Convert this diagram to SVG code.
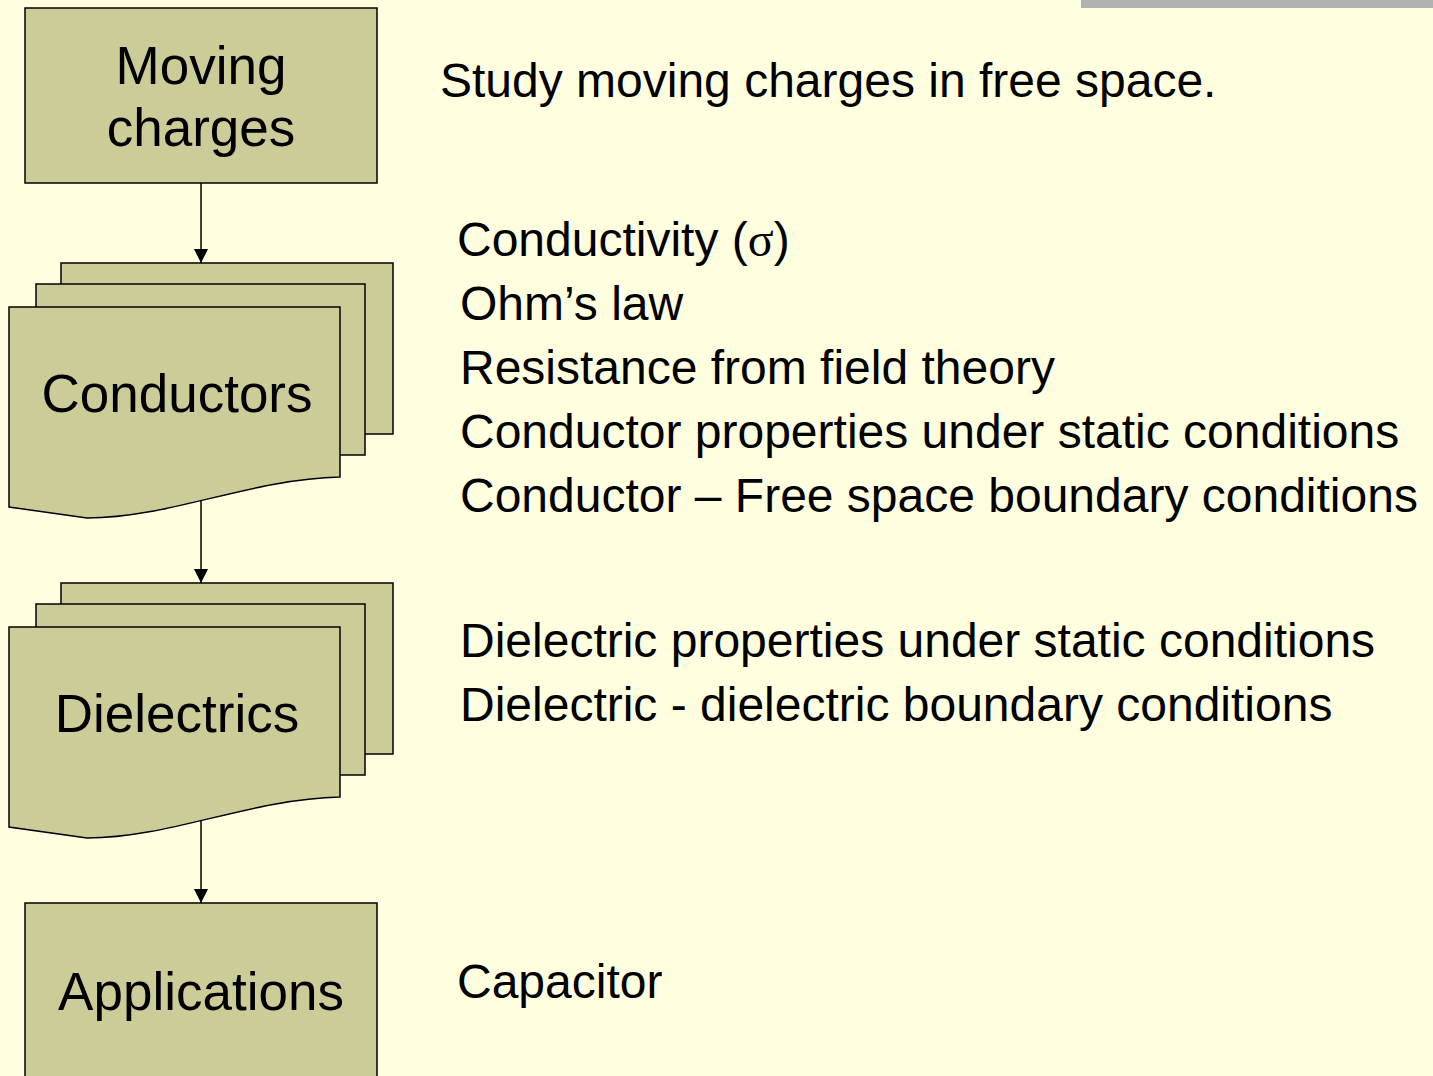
<svg xmlns="http://www.w3.org/2000/svg" width="1433" height="1076" viewBox="0 0 1433 1076">
<defs>
<style>
.box{fill:#cccc99;stroke:#000;stroke-width:1.5}
.lbl{font-family:"Liberation Sans",Arial,sans-serif;font-size:53px;fill:#000;text-anchor:middle}
.txt{font-family:"Liberation Sans",Arial,sans-serif;font-size:48px;fill:#000}
.conn{stroke:#000;stroke-width:1.5;fill:none}
</style>
<marker id="arr" viewBox="0 0 14 14" refX="14" refY="7" markerWidth="14" markerHeight="14" markerUnits="userSpaceOnUse" orient="auto">
<path d="M0,0 L14,7 L0,14 Z" fill="#000"/>
</marker>
</defs>
<rect width="1433" height="1076" fill="#ffffe0"/>
<rect x="1081" y="0" width="352" height="8" fill="#b2b2b2"/>

<g id="connectors">
<path class="conn" d="M201,183 V263" marker-end="url(#arr)"/>
<path class="conn" d="M201,500 V583" marker-end="url(#arr)"/>
<path class="conn" d="M201,820 V903" marker-end="url(#arr)"/>
</g>

<g id="node-moving">
<rect class="box" x="25" y="8" width="352" height="175"/>
<text class="lbl" x="201" y="84">Moving</text>
<text class="lbl" x="201" y="146">charges</text>
</g>

<g id="node-conductors">
<path class="box" d="M61,263 H393 V434 H61 Z"/>
<path class="box" d="M36,284 H365 V455 H36 Z"/>
<path class="box" d="M9,307 H340 V477 C250,479 170,518 87,518 L9,507 Z"/>
<text class="lbl" x="177" y="412">Conductors</text>
</g>

<g id="node-dielectrics">
<path class="box" d="M61,583 H393 V754 H61 Z"/>
<path class="box" d="M36,604 H365 V775 H36 Z"/>
<path class="box" d="M9,627 H340 V797 C250,799 170,838 87,838 L9,827 Z"/>
<text class="lbl" x="177" y="732">Dielectrics</text>
</g>

<g id="node-applications">
<rect class="box" x="25" y="903" width="352" height="180"/>
<text class="lbl" x="201" y="1010">Applications</text>
</g>

<g id="notes">
<text class="txt" x="440" y="97">Study moving charges in free space.</text>
<text class="txt" x="457" y="256">Conductivity (<tspan font-family="Liberation Serif,serif">σ</tspan>)</text>
<text class="txt" x="460" y="320">Ohm’s law</text>
<text class="txt" x="460" y="384">Resistance from field theory</text>
<text class="txt" x="460" y="448">Conductor properties under static conditions</text>
<text class="txt" x="460" y="512">Conductor – Free space boundary conditions</text>
<text class="txt" x="460" y="657">Dielectric properties under static conditions</text>
<text class="txt" x="460" y="721">Dielectric - dielectric boundary conditions</text>
<text class="txt" x="457" y="998">Capacitor</text>
</g>
</svg>
